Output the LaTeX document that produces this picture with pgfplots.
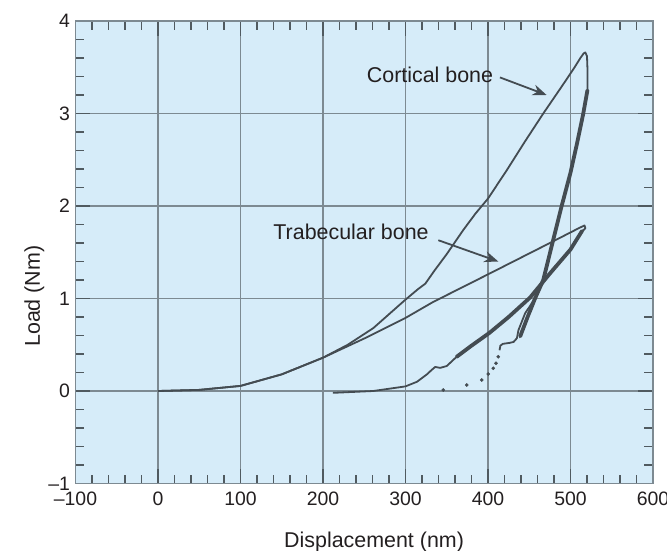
\documentclass[border=0pt]{standalone}
\usepackage{fontspec}
\setmainfont{Liberation Sans}
\usepackage{pgfplots}
\pgfplotsset{compat=1.18}
\usetikzlibrary{arrows.meta}
\definecolor{bgblue}{RGB}{214,236,249}
\definecolor{gridc}{RGB}{125,138,146}
\definecolor{tickc}{RGB}{80,90,96}
\definecolor{curve}{RGB}{68,76,82}
\definecolor{txt}{RGB}{35,31,32}
\begin{document}
\begin{tikzpicture}
\useasboundingbox (-75.5bp,-67.5bp) rectangle (591.5bp,483.5bp);
\begin{axis}[
 at={(0,0)}, anchor=south west,
 scale only axis, width=577.5bp, height=462.5bp,
 xmin=-100, xmax=600, ymin=-1, ymax=4,
 axis background/.style={fill=bgblue},
 xtick={-100,0,100,200,300,400,500,600},
 xticklabels={–100,0,100,200,300,400,500,600},
 ytick={-1,0,1,2,3,4},
 yticklabels={–1,0,1,2,3,4},
 minor x tick num=4, minor y tick num=4,
 tick align=inside, xtick pos=both, ytick pos=both,
 major tick length=15bp, minor tick length=9bp,
 tick style={line width=1.8bp, color=tickc},
 grid=major, major grid style={line width=1.2bp, color=gridc},
 axis line style={line width=1.5bp, color=gridc},
 /pgf/number format/assume math mode=true,
 tick label style={font=\fontsize{19.5}{23}\selectfont, text=txt},
 xticklabel style={anchor=base, yshift=-21.5bp},
 yticklabel style={xshift=-2bp},
 label style={font=\fontsize{21.5}{26}\selectfont, text=txt},
 xlabel={Displacement (nm)},
 ylabel={Load (Nm)},
 xlabel style={at={(axis description cs:0.517,-0.1384)}, anchor=base},
 ylabel style={at={(axis description cs:-0.0615,0.405)}, anchor=base},
 clip=false,
]
% Cortical bone loading (thin)
\addplot[curve, line width=1.8bp, line join=round] coordinates {
(0,0) (50,0.012) (100,0.055) (150,0.18) (200,0.36) (230,0.50) (261,0.68)
(280,0.83) (299,0.98) (315,1.10) (324,1.16) (335,1.30) (350,1.48) (370,1.74)
(385,1.92) (400,2.08) (423,2.39) (445,2.70) (467,3.00) (490,3.30) (505,3.50)
(512,3.60) (516,3.65) (518,3.66) (520,3.62) (520.5,3.5) (520.5,3.25)
};
% Cortical bone unloading (thick)
\addplot[curve, line width=3.8bp, line join=round, line cap=round] coordinates {
(520.5,3.25) (515.5,3.0) (508,2.68) (500,2.36) (489,1.99) (477,1.56)
(467,1.20) (457,1.0) (448,0.80) (439,0.59)
};
% Cortical bone thin branch
\addplot[curve, line width=1.8bp, line join=round] coordinates {
(458,1.02) (451,0.92) (445,0.84) (441,0.75) (437,0.66) (435,0.57)
(431,0.53) (426,0.52) (418,0.51) (415,0.49) (414,0.44)
};
% dotted tail
\addplot[curve, only marks, mark=*, mark size=1.6bp] coordinates {
(345.8,0.011) (374.2,0.065) (392.4,0.119) (400.4,0.184) (406.4,0.245)
(409.7,0.299) (412.5,0.370)
};
% Trabecular bone loading (thin)
\addplot[curve, line width=1.8bp, line join=round] coordinates {
(0,0) (50,0.012) (100,0.055) (150,0.18) (200,0.36) (253,0.58) (300,0.79)
(333,0.96) (402,1.27) (475,1.60) (510,1.76) (517,1.79) (518,1.76) (513,1.71)
};
% Trabecular bone unloading (thin full path)
\addplot[curve, line width=1.8bp, line join=round] coordinates {
(513,1.71) (500,1.53) (475,1.27) (451,1.01) (425,0.80) (402,0.63) (380,0.49)
(362,0.37) (350,0.27) (342,0.25) (336,0.26) (332,0.23) (326,0.18) (314,0.10)
(300,0.05) (261,0.0) (212,-0.02)
};
% Trabecular bone unloading (thick part)
\addplot[curve, line width=3.8bp, line join=round, line cap=round] coordinates {
(514,1.73) (500,1.53) (475,1.27) (451,1.01) (425,0.80) (402,0.63) (380,0.49)
(362,0.37)
};
% annotations
\node[font=\fontsize{21.5}{26}\selectfont, text=txt, anchor=base] at (axis cs:329.7,3.33) {Cortical bone};
\draw[curve, line width=1.8bp, -{Stealth[length=14bp,width=11bp]}] (axis cs:414.5,3.39) -- (axis cs:471,3.20);
\node[font=\fontsize{21.5}{26}\selectfont, text=txt, anchor=base] at (axis cs:234,1.64) {Trabecular bone};
\draw[curve, line width=1.8bp, -{Stealth[length=14bp,width=11bp]}] (axis cs:339.8,1.63) -- (axis cs:412.5,1.40);
\end{axis}
\end{tikzpicture}
\end{document}
